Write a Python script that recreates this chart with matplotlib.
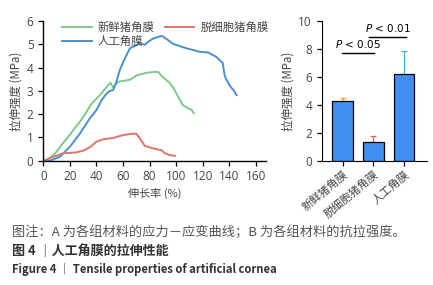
import matplotlib
matplotlib.use("Agg")
import matplotlib.pyplot as plt
from matplotlib.transforms import ScaledTranslation

plt.rcParams['font.family'] = ['Noto Sans CJK SC', 'DejaVu Sans']

# Stress-strain curves (strain %, stress MPa)
fresh_x = [0, 2.5, 6, 10, 14, 18.8, 23, 27.6, 32, 36.3, 42.6, 48.9, 50.5, 52.6, 55.1, 57.6, 62.7, 66, 70, 77.7, 84, 86.5, 90.2, 95, 97.7, 101, 105, 109, 111.5, 113.3]
fresh_y = [0, 0.02, 0.15, 0.39, 0.7, 1.03, 1.35, 1.68, 2.05, 2.46, 2.82, 3.25, 3.35, 3.15, 3.32, 3.41, 3.45, 3.5, 3.66, 3.78, 3.82, 3.81, 3.58, 3.35, 3.15, 2.8, 2.39, 2.25, 2.2, 2.03]
acell_x = [0, 1.25, 7.5, 15, 25, 31, 36, 40, 45, 52.6, 60, 66.4, 70, 72.7, 76.4, 82.7, 89, 91.5, 95.2, 99]
acell_y = [0, 0.02, 0.17, 0.32, 0.36, 0.45, 0.62, 0.82, 0.92, 0.98, 1.1, 1.16, 1.16, 0.96, 0.64, 0.53, 0.45, 0.32, 0.24, 0.21]
art_x = [0, 5, 12.5, 20, 27.6, 35, 40, 43.9, 47.6, 50, 52.6, 54.5, 57.6, 61.4, 65.2, 67.7, 71.4, 73.5, 76.4, 78.9, 82.7, 87.7, 89.5, 93, 97.7, 107.8, 117.8, 124, 130, 135, 136.7, 140.4, 144, 145.4]
art_y = [0, 0.0, 0.17, 0.6, 1.17, 1.82, 2.18, 2.6, 2.89, 3.0, 3.04, 3.3, 3.9, 4.4, 4.83, 4.9, 5.0, 5.03, 4.98, 5.11, 5.25, 5.34, 5.36, 5.22, 5.02, 4.83, 4.68, 4.65, 4.47, 4.2, 3.61, 3.22, 2.97, 2.82]

# Tensile strength bars
groups = ['新鲜猪角膜', '脱细胞猪角膜', '人工角膜']
strength = [4.25, 1.34, 6.18]
strength_err = [0.26, 0.43, 1.67]

c_green = '#7cc98a'
c_red = '#e0736a'
c_blue = '#4a90cc'
txt = '#444444'
num_font = ['Open Sans', 'DejaVu Sans']

fig = plt.figure(figsize=(4.33, 2.85), dpi=100)

# Left panel
ax = fig.add_axes([0.1, 0.436, 0.514, 0.49])
ax.plot(fresh_x, fresh_y, color=c_green, lw=1.4, label='新鲜猪角膜')
ax.plot(art_x, art_y, color=c_blue, lw=1.4, label='人工角膜')
ax.plot(acell_x, acell_y, color=c_red, lw=1.4, label='脱细胞猪角膜')
ax.set_xlim(0, 167.5)
ax.set_ylim(0, 6)
ax.set_xticks(range(0, 161, 20))
ax.set_yticks(range(0, 7))
for s in ['top', 'right']:
    ax.spines[s].set_visible(False)
for s in ['left', 'bottom']:
    ax.spines[s].set_linewidth(1.0)
ax.tick_params(colors='black', labelcolor=txt, length=3.5, width=0.9)
for t in ax.get_xticklabels() + ax.get_yticklabels():
    t.set_fontfamily(num_font)
    t.set_fontsize(8.5)
ax.set_xlabel('伸长率 (%)', fontsize=8, color=txt, labelpad=3)
ax.set_ylabel('拉伸强度 (MPa)', fontsize=8.3, color=txt, labelpad=3)
ax.legend(ncol=2, loc='upper left',
          bbox_to_anchor=(0.04, 1.07), frameon=False, fontsize=8.2, handlelength=2.6,
          handletextpad=0.5, columnspacing=0.9, labelspacing=0.3, labelcolor=txt)

# Right panel
bx = fig.add_axes([0.743, 0.436, 0.2425, 0.49])
xs = list(range(len(groups)))
bx.bar(xs, strength, width=0.66, color='#3f8ef0', edgecolor='black', linewidth=0.9, zorder=2)
err_cols = ['#e8a030', '#e05a5a', '#40b0d0']
for i in xs:
    bx.errorbar(i, strength[i], yerr=[[0], [strength_err[i]]], color=err_cols[i],
                capsize=2.5, lw=0.9, capthick=0.9, zorder=1)
bx.set_xlim(-0.675, 2.73)
bx.set_ylim(0, 10)
bx.set_yticks(range(0, 11, 2))
bx.set_xticks(xs)
bx.set_xticklabels(groups, rotation=40, ha='right', va='top', rotation_mode='anchor',
                   fontsize=8, color=txt)
shift = ScaledTranslation(6 / 100, 0, fig.dpi_scale_trans)
for t in bx.get_xticklabels():
    t.set_transform(t.get_transform() + shift)
for s in ['top', 'right']:
    bx.spines[s].set_visible(False)
bx.tick_params(labelcolor=txt, length=3.5, width=0.9)
bx.tick_params(axis='x', pad=2)
for t in bx.get_yticklabels():
    t.set_fontfamily(num_font)
    t.set_fontsize(8.5)
bx.set_ylabel('拉伸强度 (MPa)', fontsize=8.3, color=txt, labelpad=3)
# significance
bx.plot([-0.01, 1.03], [7.73, 7.73], color='black', lw=1.0)
bx.text(0.5, 7.95, '$P$ < 0.05', ha='center', va='bottom', fontsize=7.5, family='DejaVu Sans')
bx.plot([0.87, 2.06], [8.88, 8.88], color='black', lw=1.0)
bx.text(1.48, 9.1, '$P$ < 0.01', ha='center', va='bottom', fontsize=7.5, family='DejaVu Sans')

# Caption
fig.text(0.028, 1 - 232 / 285, '图注：A 为各组材料的应力－应变曲线；B 为各组材料的抗拉强度。',
         fontsize=9.5, color='#555555', va='center')
fig.text(0.028, 1 - 251 / 285, '图 4 ｜人工角膜的拉伸性能', fontsize=9.4, color='#333333',
         va='center', fontweight='bold')
fig.text(0.028, 1 - 269 / 285, 'Figure 4 ｜ Tensile properties of artificial cornea', fontsize=8.1,
         color='#333333', va='center', fontweight='bold')

fig.savefig('out.png', dpi=100)
